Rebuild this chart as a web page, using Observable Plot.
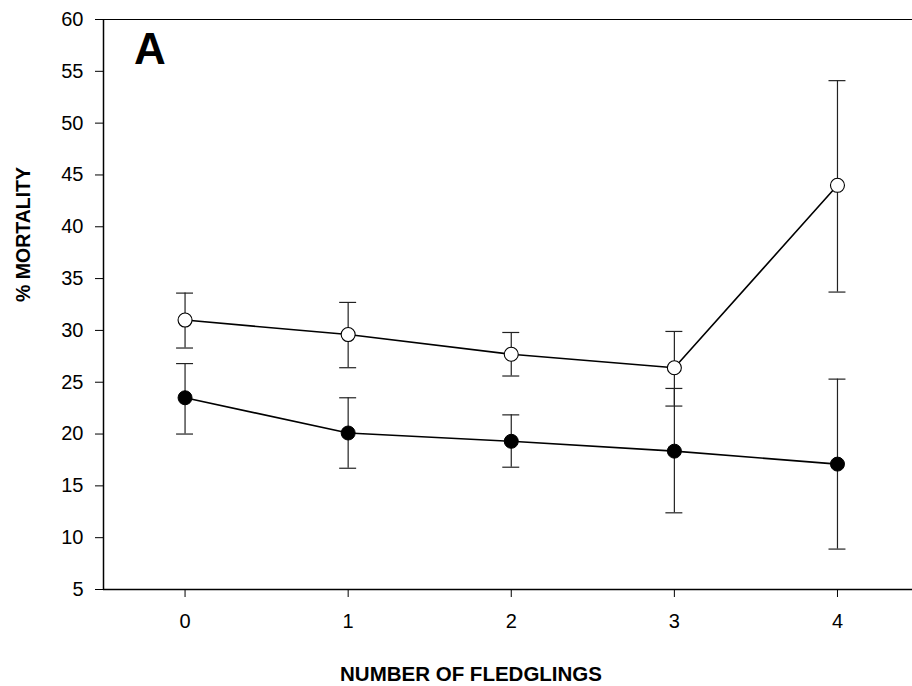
<!DOCTYPE html>
<html>
<head>
<meta charset="utf-8">
<script src="https://cdn.jsdelivr.net/npm/d3@7"></script>
<script src="https://cdn.jsdelivr.net/npm/@observablehq/plot@0.6"></script>
<style>
  html, body { margin: 0; padding: 0; background: #fff; }
  #chart svg { display: block; }
</style>
</head>
<body>
<div id="chart"></div>
<script>
// Data
const fledglings = [0, 1, 2, 3, 4];
const openMean = [31.0, 29.6, 27.7, 26.4, 44.0];
const openHigh = [33.6, 32.7, 29.8, 29.9, 54.1];
const openLow  = [28.3, 26.4, 25.6, 22.7, 33.7];
const filledMean = [23.5, 20.1, 19.3, 18.35, 17.1];
const filledHigh = [26.8, 23.5, 21.85, 24.4, 25.3];
const filledLow  = [20.0, 16.7, 16.8, 12.4, 8.9];
const yTicks = [5, 10, 15, 20, 25, 30, 35, 40, 45, 50, 55, 60];
const xTicks = [0, 1, 2, 3, 4];
const panelLabel = "A";
const xTitle = "NUMBER OF FLEDGLINGS";
const yTitle = "% MORTALITY";

const openData = fledglings.map((x, i) => ({x, mean: openMean[i], hi: openHigh[i], lo: openLow[i]}));
const filledData = fledglings.map((x, i) => ({x, mean: filledMean[i], hi: filledHigh[i], lo: filledLow[i]}));
const all = [...filledData, ...openData];
const capHalf = 0.052;
const font = "'Liberation Sans', Arial, Helvetica, sans-serif";

const chart = Plot.plot({
  width: 912,
  height: 686,
  marginLeft: 103,
  marginRight: 0,
  marginTop: 19,
  marginBottom: 97,
  style: {fontFamily: font, fontSize: "20px", color: "#000", background: "#fff"},
  x: {domain: [-0.5, 4.46], ticks: xTicks, tickSize: 8, tickPadding: 16, label: null, tickFormat: d => String(d)},
  y: {domain: [5, 60], ticks: yTicks, tickSize: 8, tickPadding: 12, label: null},
  marks: [
    Plot.ruleY([60], {stroke: "#000", strokeWidth: 1.2}),
    Plot.ruleY([5], {stroke: "#000", strokeWidth: 1.5}),
    Plot.ruleX([-0.5], {stroke: "#000", strokeWidth: 1.5}),
    // error bars
    Plot.ruleX(all, {x: "x", y1: "lo", y2: "hi", stroke: "#222", strokeWidth: 1.2}),
    Plot.ruleY(all, {y: "hi", x1: d => d.x - capHalf, x2: d => d.x + capHalf, stroke: "#222", strokeWidth: 1.2}),
    Plot.ruleY(all, {y: "lo", x1: d => d.x - capHalf, x2: d => d.x + capHalf, stroke: "#222", strokeWidth: 1.2}),
    // lines
    Plot.line(openData, {x: "x", y: "mean", stroke: "#000", strokeWidth: 1.6}),
    Plot.line(filledData, {x: "x", y: "mean", stroke: "#000", strokeWidth: 1.6}),
    // dots
    Plot.dot(openData, {x: "x", y: "mean", r: 7, fill: "#fff", stroke: "#000", strokeWidth: 1.1}),
    Plot.dot(filledData, {x: "x", y: "mean", r: 7, fill: "#000", stroke: "#000", strokeWidth: 1}),
    // texts
    Plot.text([panelLabel], {frameAnchor: "top-left", dx: 46.5, dy: 30, textAnchor: "middle", lineAnchor: "middle", fontSize: 44, fontWeight: "bold", fill: "#000"}),
    Plot.text([xTitle], {frameAnchor: "bottom", dx: -37, dy: 85, textAnchor: "middle", lineAnchor: "middle", fontSize: 20.5, fontWeight: "bold", fill: "#000"}),
    Plot.text([yTitle], {frameAnchor: "left", dx: -80, dy: -70, rotate: -90, textAnchor: "middle", lineAnchor: "middle", fontSize: 19.5, fontWeight: "bold", fill: "#000"})
  ]
});
document.getElementById("chart").appendChild(chart);
</script>
</body>
</html>
